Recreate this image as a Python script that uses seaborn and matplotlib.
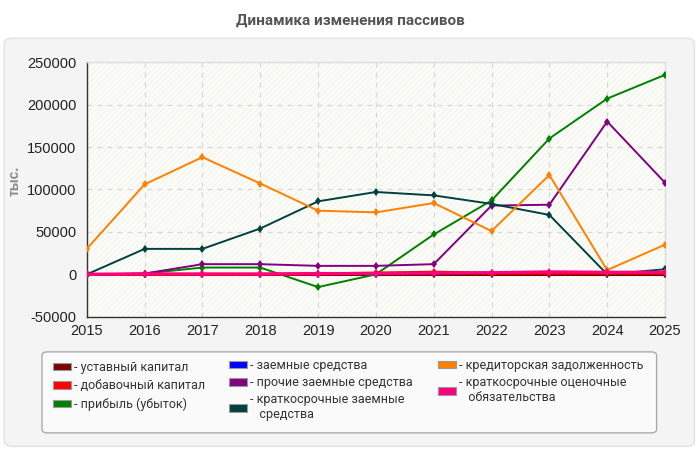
import pandas as pd
import numpy as np
import seaborn as sns
import matplotlib.pyplot as plt
from matplotlib.patches import FancyBboxPatch, Rectangle

sns.set_style("white")
plt.rcParams['font.family'] = ['Liberation Sans', 'DejaVu Sans']
plt.rcParams['hatch.linewidth'] = 0.6
plt.rcParams['axes.unicode_minus'] = False

years = list(range(2015, 2026))

ustavny = [0, 0, 0, 0, 0, 0, 0, 0, 0, 0, 0]
dobavochny = [0, 0, 0, 0, 500, 1500, 2500, 1500, 1500, 1500, 1500]
pribyl = [-1000, 1000, 8000, 8000, -15000, 0, 47000, 87000, 160000, 207000, 235000]
zaemnye = [0, 0, 0, 0, 0, 0, 0, 0, 0, 0, 0]
prochie = [0, 1000, 12000, 12000, 10000, 10000, 12000, 81000, 82000, 180000, 108000]
kratk_zaem = [0, 30000, 30000, 54000, 86000, 97000, 93000, 83000, 70000, 0, 6000]
kreditor = [30000, 106000, 138000, 107000, 75000, 73000, 84000, 51000, 117000, 5000, 35000]
ocenochnye = [0, 500, 500, 500, 1000, 1000, 1500, 2000, 3000, 2500, 2500]

names = ['уставный капитал', 'добавочный капитал', 'прибыль (убыток)',
         'заемные средства', 'прочие заемные средства',
         'краткосрочные заемные средства', 'кредиторская задолженность',
         'краткосрочные оценочные обязательства']
legend_labels = ['- уставный капитал', '- добавочный капитал', '- прибыль (убыток)',
                 '- заемные средства', '- прочие заемные средства',
                 '- краткосрочные заемные\n   средства', '- кредиторская задолженность',
                 '- краткосрочные оценочные\n   обязательства']
colors = ['#800000', '#ff0000', '#008000', '#0000ff', '#800080',
          '#004040', '#ff8000', '#ff0080']
series = [ustavny, dobavochny, pribyl, zaemnye, prochie, kratk_zaem, kreditor, ocenochnye]

rows = []
for name, vals in zip(names, series):
    for y, v in zip(years, vals):
        rows.append({'year': y, 'value': v, 'series': name})
df = pd.DataFrame(rows)

fig = plt.figure(figsize=(7, 4.5), dpi=100)
fig.patch.set_facecolor('white')
panel = FancyBboxPatch((0.006, 0.008), 0.986, 0.907, boxstyle="round,pad=0,rounding_size=0.012",
                       transform=fig.transFigure, facecolor='#f4f4f4', edgecolor='#e2e2e2',
                       lw=1, zorder=-10)
fig.patches.append(panel)
fig.text(0.5, 0.955, 'Динамика изменения пассивов', ha='center', va='center',
         fontsize=11, fontweight='bold', color='#555555', family=['Roboto', 'DejaVu Sans'])

ax = fig.add_axes([0.124, 0.296, 0.826, 0.566])
ax.set_facecolor('#fdfdf7')
bg = Rectangle((0, 0), 1, 1, transform=ax.transAxes, facecolor='#fdfdf7',
               edgecolor='#efefef', hatch='//////', lw=0, zorder=0)
ax.add_patch(bg)

# blue first so the zero-level capital lines cover it
order = [3, 0, 2, 4, 5, 6, 1, 7]
widths = {'уставный капитал': 2.2, 'добавочный капитал': 2.2,
          'краткосрочные оценочные обязательства': 2.2}
for i in order:
    name, col = names[i], colors[i]
    sub = df[df['series'] == name]
    sns.lineplot(data=sub, x='year', y='value', color=col, ax=ax, marker='d',
                 markersize=4.5, markeredgewidth=0, lw=widths.get(name, 1.4),
                 zorder=3, legend=False)

ax.set_xlim(2015, 2025)
ax.set_ylim(-50000, 250000)
ax.set_xticks(years)
ax.set_yticks(range(-50000, 250001, 50000))
ax.tick_params(axis='both', labelsize=10.5, colors='#222222', length=4, direction='out', width=1)
ax.tick_params(axis='x', pad=1)
ax.grid(True, ls=(0, (4, 4)), color='#d8d8d8', lw=0.9)
ax.set_axisbelow(True)
ax.set_xlabel('')
ax.set_ylabel('тыс.', color='#888888', fontsize=10, fontweight='bold')
ax.yaxis.set_label_coords(-0.112, 0.535)
for s in ['left', 'bottom']:
    ax.spines[s].set_color('#333333')
    ax.spines[s].set_linewidth(1)
for s in ['top', 'right']:
    ax.spines[s].set_color('#dddddd')
    ax.spines[s].set_linewidth(1)

lbox = FancyBboxPatch((0.06, 0.038), 0.878, 0.18, boxstyle="round,pad=0,rounding_size=0.008",
                      transform=fig.transFigure, facecolor='#fafafa', edgecolor='#aaaaaa',
                      lw=1, zorder=-5)
fig.patches.append(lbox)

handles = [FancyBboxPatch((0, 0), 1, 1, boxstyle="round,pad=0,rounding_size=0.3",
                          facecolor=c, edgecolor='#999999', lw=0.8) for c in colors]
groups = [(0, 3, 0.0757, 0.198, 0.42), (3, 6, 0.327, 0.202, 0.33), (6, 8, 0.626, 0.202, 0.33)]
for start, stop, xpos, ypos, lsp in groups:
    leg = fig.legend(handles[start:stop], legend_labels[start:stop], loc='upper left',
                     bbox_to_anchor=(xpos, ypos), frameon=False,
                     handlelength=1.44, handleheight=0.56, handletextpad=0.24,
                     labelspacing=lsp, borderpad=0, borderaxespad=0,
                     prop={'family': ['Roboto', 'DejaVu Sans'], 'size': 9})
    for t in leg.get_texts():
        t.set_color('#333333')

fig.savefig('out.png', dpi=100, facecolor=fig.get_facecolor())
